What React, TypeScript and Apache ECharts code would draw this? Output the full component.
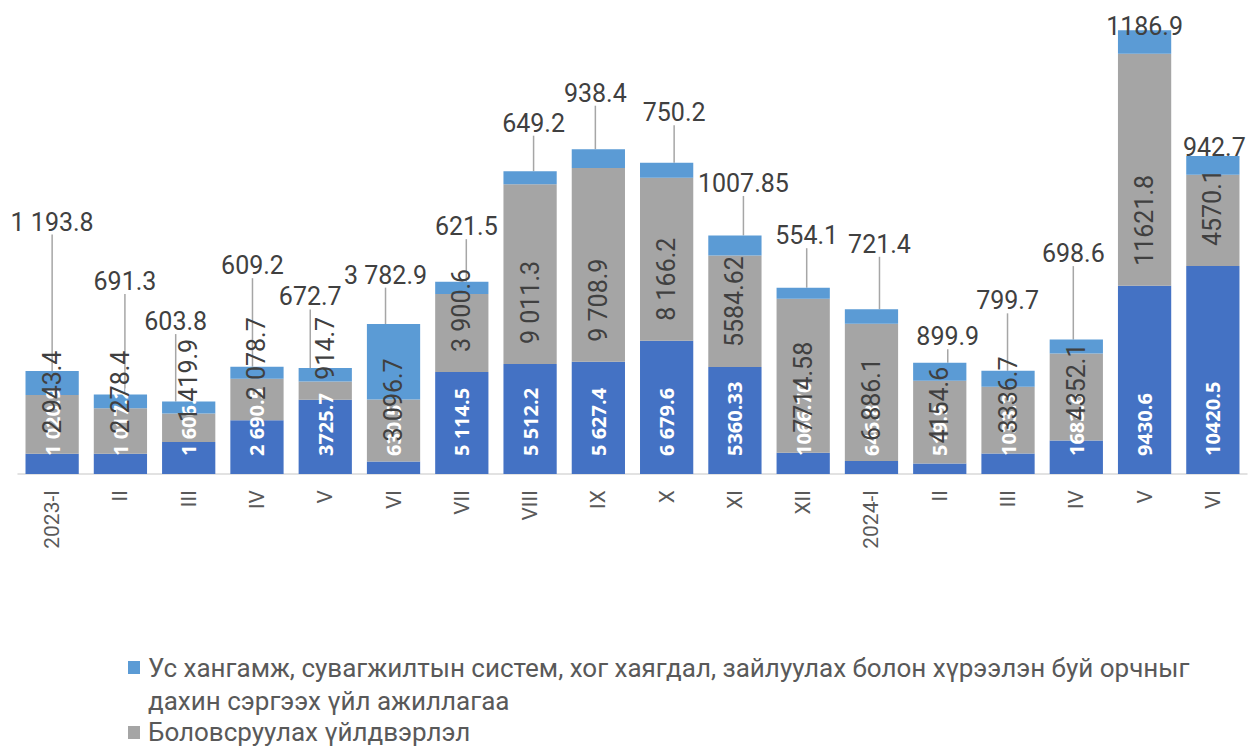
import React, { useEffect, useRef } from "react";
import * as echarts from "echarts";

const categories = ["2023-I", "II", "III", "IV", "V", "VI", "VII", "VIII", "IX", "X", "XI", "XII", "2024-I", "II", "III", "IV", "V", "VI"];

// Bottom segment (dark blue) – legend entry is cut off in the reference
const baseName = "Уул уурхай, олборлолт";
const baseValues = [1020.9, 1017.2, 1606.2, 2690.5, 3725.7, 630.5, 5114.5, 5512.2, 5627.4, 6679.6, 5360.33, 1066.7, 646.8, 519.9, 1033.3, 1683.6, 9430.6, 10420.5];
const baseLabels = ["1 020.9", "1 017.2", "1 606.2", "2 690.5", "3725.7", "630.5", "5 114.5", "5 512.2", "5 627.4", "6 679.6", "5360.33", "1066.70", "646.8", "519.9", "1033.3", "1683.6", "9430.6", "10420.5"];

// Middle segment (gray)
const manufName = "Боловсруулах үйлдвэрлэл";
const manufValues = [2943.4, 2278.4, 1419.9, 2078.7, 914.7, 3096.7, 3900.6, 9011.3, 9708.9, 8166.2, 5584.62, 7714.58, 6886.1, 4154.6, 3336.7, 4352.1, 11621.8, 4570.1];
const manufLabels = ["2 943.4", "2 278.4", "1 419.9", "2 078.7", "914.7", "3 096.7", "3 900.6", "9 011.3", "9 708.9", "8 166.2", "5584.62", "7714.58", "6 886.1", "4154.6", "3336.7", "4352.1", "11621.8", "4570.1"];

// Top segment (light blue)
const waterName = "Ус хангамж, сувагжилтын систем, хог хаягдал, зайлуулах болон хүрээлэн буй орчныг дахин сэргээх үйл ажиллагаа";
const waterLegendText = "Ус хангамж, сувагжилтын систем, хог хаягдал, зайлуулах болон хүрээлэн буй орчныг\nдахин сэргээх үйл ажиллагаа";
const waterValues = [1193.8, 691.3, 603.8, 609.2, 672.7, 3782.9, 621.5, 649.2, 938.4, 750.2, 1007.85, 554.1, 721.4, 899.9, 799.7, 698.6, 1186.9, 942.7];
const waterLabels = ["1 193.8", "691.3", "603.8", "609.2", "672.7", "3 782.9", "621.5", "649.2", "938.4", "750.2", "1007.85", "554.1", "721.4", "899.9", "799.7", "698.6", "1186.9", "942.7"];

// Callout label placement (pixel offsets relative to the bar top)
const calloutDx = [0, 4.5, -13, -4.5, -15, -8, 4.5, 3.5, -3, 7.5, 8.5, 3.5, 8, 8, -0.5, -3, 0, 1.5];
const calloutRise = [149, 113, 80, 101, 71, 49, 55, 48, 56, 50, 52, 52, 65, 26, 70, 86, 4, 9];

const COLORS = { base: "#4472c4", manuf: "#a5a5a5", water: "#5b9bd5" };

export default function App() {
  const ref = useRef<HTMLDivElement>(null);

  useEffect(() => {
    if (!ref.current) return;
    const chart = echarts.init(ref.current, undefined, { renderer: "svg" });

    const option: any = {
      animation: false,
      backgroundColor: "#ffffff",
      grid: { left: 18, right: 8, top: 15, bottom: 273, containLabel: false },
      xAxis: {
        type: "category",
        data: categories,
        axisLine: { show: true, lineStyle: { color: "#d9d9d9", width: 1.5 } },
        axisTick: { show: false },
        axisLabel: {
          rotate: 90,
          margin: 16,
          color: "#595959",
          fontSize: 21,
          fontFamily: "Roboto",
          interval: 0,
        },
      },
      yAxis: {
        type: "value",
        min: 0,
        max: 23000,
        show: false,
        splitLine: { show: false },
      },
      series: [
        {
          name: baseName,
          type: "bar",
          stack: "total",
          barCategoryGap: "22%",
          data: baseValues,
          itemStyle: { color: COLORS.base },
          label: {
            show: true,
            position: "insideBottom",
            distance: 18,
            rotate: 90,
            align: "left",
            verticalAlign: "middle",
            color: "#ffffff",
            fontFamily: "Open Sans",
            fontWeight: "bold",
            fontSize: 20,
            formatter: (p: any) => baseLabels[p.dataIndex],
          },
        },
        {
          name: manufName,
          type: "bar",
          stack: "total",
          barCategoryGap: "22%",
          data: manufValues,
          itemStyle: { color: COLORS.manuf },
          label: {
            show: true,
            position: "insideBottom",
            distance: 20,
            rotate: 90,
            align: "left",
            verticalAlign: "middle",
            color: "#404040",
            fontFamily: "Roboto",
            fontSize: 25,
            formatter: (p: any) => manufLabels[p.dataIndex],
          },
        },
        {
          name: waterName,
          type: "bar",
          stack: "total",
          barCategoryGap: "22%",
          data: waterValues,
          itemStyle: { color: COLORS.water },
          label: {
            show: true,
            position: "top",
            color: "#404040",
            fontFamily: "Roboto",
            fontSize: 25,
            formatter: (p: any) => waterLabels[p.dataIndex],
          },
          labelLine: {
            show: true,
            lineStyle: { color: "#a6a6a6", width: 1.5 },
          },
          labelLayout: (p: any) => ({
            x: p.rect.x + p.rect.width / 2 + calloutDx[p.dataIndex],
            y: p.rect.y - calloutRise[p.dataIndex],
            align: "center",
            verticalAlign: "middle",
          }),
        },
      ],
      graphic: [
        {
          type: "rect",
          shape: { x: 128, y: 661, width: 12, height: 13 },
          style: { fill: COLORS.water },
        },
        {
          type: "text",
          x: 148,
          y: 651,
          style: {
            text: waterLegendText,
            font: "26px Roboto",
            lineHeight: 33,
            fill: "#595959",
            verticalAlign: "top",
          },
        },
        {
          type: "rect",
          shape: { x: 128, y: 726, width: 12, height: 13 },
          style: { fill: COLORS.manuf },
        },
        {
          type: "text",
          x: 148,
          y: 719,
          style: {
            text: manufName,
            font: "26px Roboto",
            lineHeight: 26,
            fill: "#595959",
            verticalAlign: "top",
          },
        },
      ],
    };

    chart.setOption(option);
    return () => chart.dispose();
  }, []);

  return (
    <div
      ref={ref}
      style={{ position: "fixed", left: 0, top: 0, width: 1255, height: 747 }}
    />
  );
}
